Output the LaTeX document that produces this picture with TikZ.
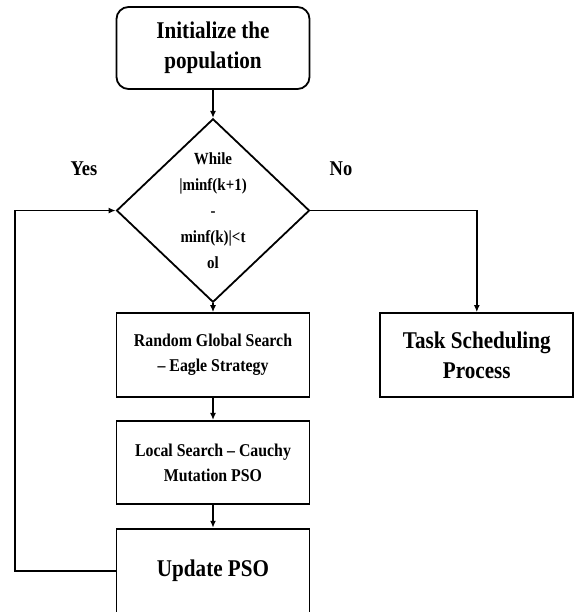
\documentclass[tikz,border=0pt]{standalone}
\usepackage{fontspec}
\setmainfont{Liberation Serif}[FakeStretch=0.88]
\usetikzlibrary{positioning,shapes.geometric,arrows.meta}

\begin{document}
\begin{tikzpicture}[x=1pt, y=-1pt, line width=1.8pt, font=\bfseries,
    proc/.style={rectangle, draw, minimum width=193pt, minimum height=83pt, align=center, inner sep=2pt},
    start/.style={proc, rounded corners=12pt},
    cond/.style={diamond, draw, minimum width=193pt, minimum height=178pt, align=center, inner sep=0pt,
        font=\bfseries\fontsize{17}{26}\selectfont},
    big/.style={font=\bfseries\fontsize{24}{30}\selectfont},
    small/.style={font=\bfseries\fontsize{18}{25}\selectfont},
    lbl/.style={font=\bfseries\fontsize{21}{25}\selectfont},
    flow/.style={-{Latex[length=7pt,width=6pt]}}]
    \useasboundingbox (0,0) rectangle (574,612);

    % Define steps
    \node[start, big, minimum height=82pt] (init) at (213,48) {Initialize the\\population};
    \node[cond, below=28pt of init] (dec) {While\\|minf(k+1)\\-\\minf(k)|<t\\ol};
    \node[proc, small, minimum height=84pt, below=9pt of dec] (rand) {Random Global Search\\– Eagle Strategy};
    \node[proc, small, below=22pt of rand] (local) {Local Search – Cauchy\\Mutation PSO};
    \node[proc, big, minimum height=84pt, below=23pt of local] (upd) {Update PSO};
    \node[proc, big, minimum height=84pt, right=69pt of rand] (task) {Task Scheduling\\Process};

    % Branch labels
    \node[lbl] (yes) at (84,169) {Yes};
    \node[lbl] (no) at (341,169) {No};
    \coordinate (back) at (15,0);

    % Transitions between steps
    \draw[flow] (init) -- (dec);
    \draw[flow] (dec) -- (rand);
    \draw[flow] (rand) -- (local);
    \draw[flow] (local) -- (upd);
    \draw[flow] (dec.east) -| (task.north);

    % Loop back
    \draw[flow] (upd.west) -- (upd.west -| back) |- (dec.west);

\end{tikzpicture}
\end{document}
